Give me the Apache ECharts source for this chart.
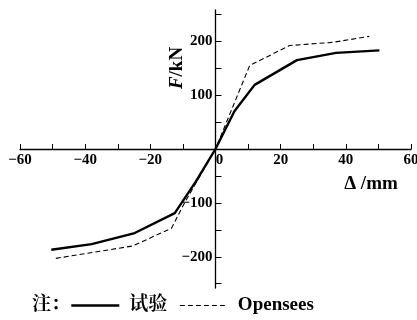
<!DOCTYPE html>
<html><head><meta charset="utf-8">
<script src="https://cdn.jsdelivr.net/npm/echarts@6/dist/echarts.min.js"></script>
<style>html,body{margin:0;padding:0;background:#fff}#c{width:417px;height:320px}</style>
</head><body><div id="c"></div>
<script>
// data
const seriesNames = ['试验', 'Opensees'];
const testDisp  = [-50.4, -38, -24.8, -12.5, -6, 0, 5.8, 12, 25, 37, 50.3];
const testForce = [-187, -176.5, -156, -119, -60, 0, 70, 119, 165, 178.5, 183];
const simDisp   = [-49, -25.4, -13.5, -9.5, 0, 10.5, 22.7, 36, 47.2];
const simForce  = [-203, -180, -147, -100, 0, 155, 192, 198, 209];
const xTicks  = [-60, -50, -40, -30, -20, -10, 0, 10, 20, 30, 40, 50, 60];
const xLabels = [-60, -40, -20, 0, 20, 40, 60];
const yTicks  = [-250, -200, -150, -100, -50, 0, 50, 100, 150, 200, 250];
const yLabels = [-200, -100, 100, 200];

const serif = '"Liberation Serif","Times New Roman",serif';
const cjk = '"Liberation Serif","Noto Serif CJK SC","Noto Sans CJK SC",serif';
const zip = (a, b) => a.map((v, i) => [v, b[i]]);
const minus = v => String(v).replace('-', '\u2212');

const G = {left: 20, right: 6, top: 10, bottom: 32};
const W = 417, H = 320;

const chart = echarts.init(document.getElementById('c'), null, {renderer: 'canvas'});
chart.setOption({
  animation: false,
  backgroundColor: '#fff',
  grid: Object.assign({containLabel: false, outerBoundsMode: 'none'}, G),
  xAxis: {
    type: 'value', min: -60, max: 60, position: 'bottom',
    offset: -(H - G.top - G.bottom) / 2,
    axisLine: {onZero: false, lineStyle: {color: '#000', width: 1.3}},
    axisTick: {inside: true, length: 5, customValues: xTicks, lineStyle: {color: '#000', width: 1}},
    splitLine: {show: false},
    axisLabel: {
      customValues: xLabels, color: '#000', fontFamily: serif, fontSize: 15, fontWeight: 'bold', margin: 4,
      formatter: v => v === 0 ? '{z|0}' : minus(v),
      rich: {z: {padding: [0, 0, 0, 8], fontFamily: serif, fontSize: 15, fontWeight: 'bold', color: '#000'}}
    }
  },
  yAxis: {
    type: 'value', min: -258, max: 258, position: 'left',
    offset: -(W - G.left - G.right) / 2,
    axisLine: {onZero: false, lineStyle: {color: '#000', width: 1.3}},
    axisTick: {inside: true, length: 6, customValues: yTicks, lineStyle: {color: '#000', width: 1}},
    splitLine: {show: false},
    axisLabel: {customValues: yLabels, color: '#000', fontFamily: serif, fontSize: 15, fontWeight: 'bold', margin: 3,
      formatter: v => minus(v)}
  },
  legend: {
    left: 70, top: 296, padding: 0, itemWidth: 48, itemHeight: 14, itemGap: 12,
    data: [
      {name: seriesNames[0], lineStyle: {width: 2.6, color: '#000'}},
      {name: seriesNames[1], lineStyle: {width: 1.1, color: '#000', type: [5, 3]}}
    ],
    itemStyle: {opacity: 0},
    textStyle: {color: '#000', fontFamily: cjk, fontSize: 19, fontWeight: 'bold', padding: [0, 0, 0, 5]}
  },
  graphic: [
    {type: 'text', left: 32, top: 296, style: {text: '注：', fill: '#000', font: 'bold 19px ' + cjk}},
    {type: 'text', x: 177.5, y: 68, rotation: Math.PI / 2,
      style: {text: '{i|F}{n|/kN}', align: 'center', verticalAlign: 'middle',
        rich: {i: {fontFamily: serif, fontSize: 19, fontStyle: 'italic', fontWeight: 'bold', fill: '#000'},
               n: {fontFamily: serif, fontSize: 19, fill: '#000', fontWeight: 'bold'}}}},
    {type: 'text', x: 371, y: 184,
      style: {text: '\u0394 /mm', align: 'center', verticalAlign: 'middle', fill: '#000',
        font: 'bold 19px ' + serif}}
  ],
  series: [
    {name: seriesNames[0], type: 'line', symbol: 'none', data: zip(testDisp, testForce),
      lineStyle: {color: '#000', width: 2.4}, itemStyle: {color: '#000'}},
    {name: seriesNames[1], type: 'line', symbol: 'none', data: zip(simDisp, simForce),
      lineStyle: {color: '#000', width: 1.1, type: [5, 3]}, itemStyle: {color: '#000'}}
  ]
});
</script></body></html>
